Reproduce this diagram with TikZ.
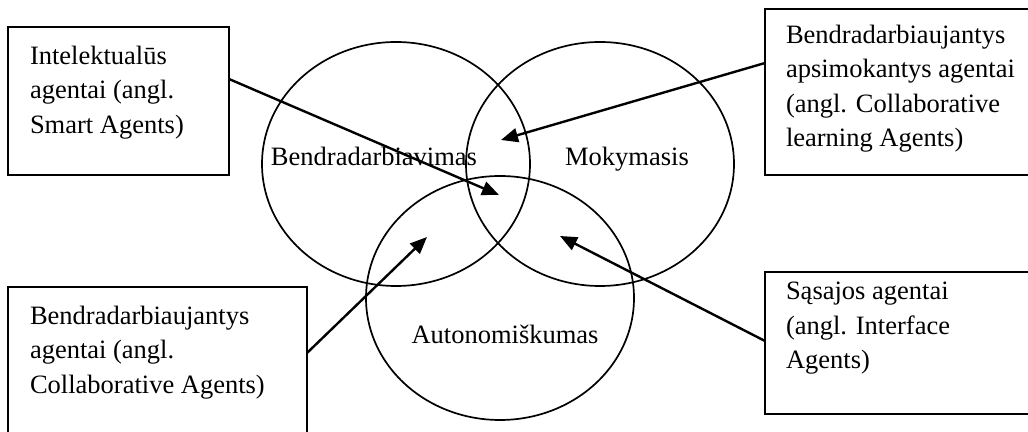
\documentclass[tikz,border=0pt]{standalone}
\usepackage{fontspec}
\setmainfont{Liberation Serif}
\usetikzlibrary{shapes.geometric,arrows.meta}
\begin{document}
\begin{tikzpicture}[x=0.5pt,y=-0.5pt,
  every node/.style={inner sep=0pt,outer sep=0pt},
  txt/.style={font=\fontsize{13.25pt}{17.25pt}\selectfont},
  note/.style={txt,anchor=north west,align=left},
  infobox/.style={draw,line width=1.1pt,anchor=north west},
  area/.style={draw,ellipse,line width=0.85pt,minimum width=134pt,minimum height=122pt},
  pointer/.style={line width=1.2pt,-{Triangle[length=8.5pt,width=7pt]}}]
\clip (0,0) rectangle (1028,432);

% three overlapping areas
\node[area] (e1) at (396,164) {};
\node[area] (e2) at (600,164) {};
\node[area] (e3) at (500,298) {};
\node[txt,anchor=base] (l1) at (374,166) {Bendradarbiavimas};
\node[txt,anchor=base] (l2) at (627,166) {Mokymasis};
\node[txt,anchor=base] (l3) at (505,344) {Autonomiškumas};

% agent type boxes
\node[infobox,minimum width=110.5pt,minimum height=74pt] (b1) at (8,27) {};
\node[infobox,minimum width=140pt,minimum height=83pt] (b2) at (765,9) {};
\node[infobox,minimum width=149.5pt,minimum height=80pt] (b3) at (8,287) {};
\node[infobox,minimum width=140pt,minimum height=71pt] (b4) at (765,272) {};

\node[note] (t1) at (30,46) {Intelektualūs\\agentai (angl.\\Smart Agents)};
\node[note] (t2) at (786,25) {Bendradarbiaujantys\\apsimokantys agentai\\(angl. Collaborative\\learning Agents)};
\node[note] (t3) at (30,306) {Bendradarbiaujantys\\agentai (angl.\\Collaborative Agents)};
\node[note] (t4) at (786,282) {Sąsajos agentai\\(angl. Interface\\Agents)};

% arrow targets inside the overlaps
\coordinate (p1) at (499,195);
\coordinate (p2) at (501,140);
\coordinate (p3) at (427,237);
\coordinate (p4) at (560,236);

\draw[pointer] ([yshift=11pt]b1.east) -- (p1);
\draw[pointer] ([yshift=14.5pt]b2.west) -- (p2);
\draw[pointer] ([yshift=7pt]b3.east) -- (p3);
\draw[pointer] ([yshift=1pt]b4.west) -- (p4);
\end{tikzpicture}
\end{document}
